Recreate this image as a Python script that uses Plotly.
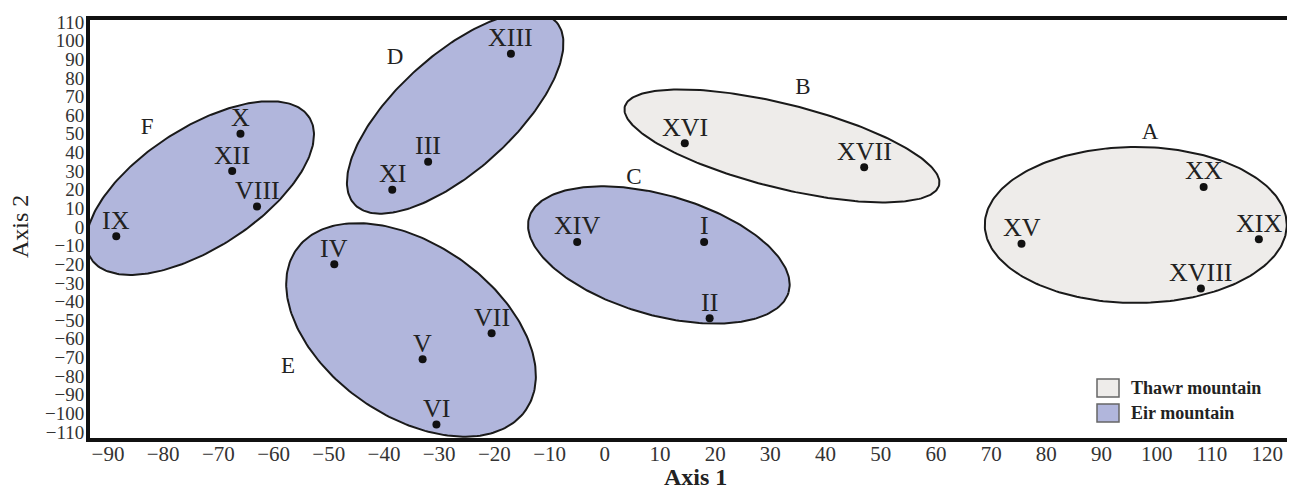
import numpy as np
import plotly.graph_objects as go

# ---- data ----
point_labels = ["I", "II", "III", "IV", "V", "VI", "VII", "VIII", "IX", "X",
                "XI", "XII", "XIII", "XIV", "XV", "XVI", "XVII", "XVIII", "XIX", "XX"]
axis1 = [18, 19, -32, -49, -33, -30.5, -20.5, -63, -88.5, -66,
         -38.5, -67.5, -17, -5, 75.5, 14.5, 47, 108, 118.5, 108.5]
axis2 = [-8, -49, 35, -20, -71, -106, -57, 11, -5, 50,
         20, 30, 93, -8, -9, 45, 32, -33, -6.5, 21.5]

group_names = ["A", "B", "C", "D", "E", "F"]
group_site = ["Thawr mountain", "Thawr mountain", "Eir mountain", "Eir mountain", "Eir mountain", "Eir mountain"]
group_cx = [96.2, 32.1, 9.8, -27.1, -35.1, -73.3]
group_cy = [1.1, 43.5, -15.0, 61.2, -55.2, 20.9]
group_a_px = [151, 162, 135, 136, 140, 130]
group_b_px = [78, 42, 60, 58, 86, 60]
group_angle = [0, -14, -16, 42, -35, 33]
group_label_x = [98.8, 35.9, 5.3, -38.0, -57.4, -82.9]
group_label_y = [50.4, 74.6, 26.3, 90.7, -75.1, 53.1]

x_ticks = list(range(-90, 121, 10))
y_ticks = list(range(-110, 111, 10))

# ---- layout geometry ----
W, H = 1289, 490
ML, MR, MT, MB = 90, 2, 20, 52
XR = [-93.26, 123.6]
YR = [-113.2, 111.07]
pw, ph = W - ML - MR, H - MT - MB
sx = pw / (XR[1] - XR[0])
sy = ph / (YR[1] - YR[0])

site_fill = {"Thawr mountain": "#eeecea", "Eir mountain": "#b1b6dc"}
SERIF = "Liberation Serif, Times New Roman, serif"
TXT = "#222"

fig = go.Figure()

t = np.linspace(0, 2 * np.pi, 240)
for name, site, cx, cy, a, b, ang in zip(group_names, group_site, group_cx, group_cy,
                                          group_a_px, group_b_px, group_angle):
    th = np.deg2rad(ang)
    dx = a * np.cos(t) * np.cos(th) - b * np.sin(t) * np.sin(th)
    dy = a * np.cos(t) * np.sin(th) + b * np.sin(t) * np.cos(th)
    fig.add_trace(go.Scatter(x=cx + dx / sx, y=cy + dy / sy, mode="lines",
                             fill="toself", fillcolor=site_fill[site],
                             line=dict(color="#1a1a1a", width=2),
                             hoverinfo="skip", showlegend=False))

fig.add_trace(go.Scatter(x=axis1, y=axis2, mode="markers", cliponaxis=False,
                         marker=dict(color="#111", size=8),
                         showlegend=False))

for lab, xv, yv in zip(point_labels, axis1, axis2):
    fig.add_annotation(x=xv, y=yv, text=lab, showarrow=False, yshift=16,
                       xanchor="center", yanchor="middle",
                       font=dict(family=SERIF, size=26, color=TXT))

fig.add_trace(go.Scatter(x=group_label_x, y=group_label_y, mode="text", text=group_names,
                         cliponaxis=False,
                         textfont=dict(family=SERIF, size=23, color=TXT),
                         showlegend=False))

# legend (drawn)
def px2paper(px, py):
    return (px - ML) / pw, (H - MB - py) / ph

legend_items = [("Thawr mountain", 388), ("Eir mountain", 413)]
for lab, yc in legend_items:
    x0, y0 = px2paper(1097, yc + 9)
    x1, y1 = px2paper(1119, yc - 9)
    fig.add_shape(type="rect", xref="paper", yref="paper", x0=x0, y0=y0, x1=x1, y1=y1,
                  fillcolor=site_fill[lab], line=dict(color="#666", width=1.5))
    tx, ty = px2paper(1129, yc)
    fig.add_annotation(xref="paper", yref="paper", x=tx, y=ty, text="<b>%s</b>" % lab,
                       showarrow=False, xanchor="left", yanchor="middle",
                       font=dict(family=SERIF, size=18, color=TXT))

# axis titles
ax1x, ax1y = px2paper(695, 477)
fig.add_annotation(xref="paper", yref="paper", x=ax1x, y=ax1y, text="<b>Axis 1</b>",
                   showarrow=False, xanchor="center", yanchor="middle",
                   font=dict(family=SERIF, size=24, color=TXT))
ax2x, ax2y = px2paper(20, 227)
fig.add_annotation(xref="paper", yref="paper", x=ax2x, y=ax2y, text="Axis 2",
                   showarrow=False, xanchor="center", yanchor="middle", textangle=-90,
                   font=dict(family=SERIF, size=24, color=TXT))

fig.update_layout(
    width=W, height=H,
    margin=dict(l=ML, r=MR, t=MT, b=MB),
    plot_bgcolor="white", paper_bgcolor="white",
    xaxis=dict(range=XR, tickvals=x_ticks, showgrid=False, zeroline=False,
               showline=True, linecolor="#111", linewidth=4, mirror=True,
               ticks="", automargin=False, ticklabelstandoff=-6,
               tickfont=dict(family=SERIF, size=21, color="#333")),
    yaxis=dict(range=YR, tickvals=y_ticks, showgrid=False, zeroline=False,
               showline=True, linecolor="#111", linewidth=4, mirror=False,
               ticks="", automargin=False, ticklabelstandoff=-2,
               tickfont=dict(family=SERIF, size=19, color="#333")),
)

fig.write_html("out.html", config={"displayModeBar": False},
               post_script="document.body.style.margin='0';document.body.style.overflow='hidden';")
